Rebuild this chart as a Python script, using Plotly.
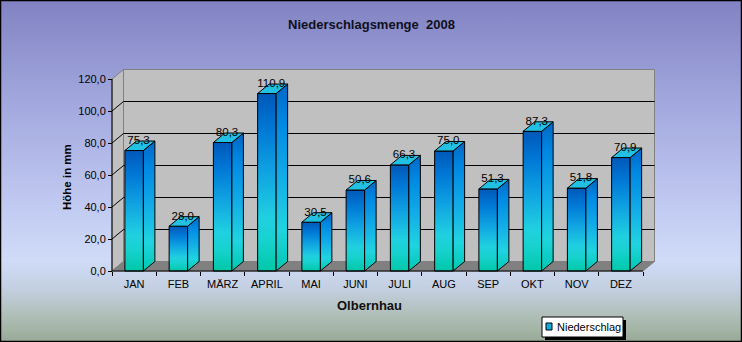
import plotly.graph_objects as go

# Monthly precipitation, Olbernhau 2008 (mm)
months = ["JAN", "FEB", "MÄRZ", "APRIL", "MAI", "JUNI", "JULI", "AUG", "SEP", "OKT", "NOV", "DEZ"]
precip = [75.3, 28.0, 80.3, 110.9, 30.5, 50.6, 66.3, 75.0, 51.3, 87.3, 51.8, 70.9]
y_ticks = [0, 20, 40, 60, 80, 100, 120]
y_tick_labels = ["0,0", "20,0", "40,0", "60,0", "80,0", "100,0", "120,0"]
series_name = "Niederschlag"

W, H = 742, 342

# Frame geometry in pixels: front plane of the pseudo-3D box
FX0 = 112.0        # left edge of front plane
CAT_W = 44.25      # width of one category
FY0 = 271.0        # pixel row of value 0
PX_PER_MM = 1.6    # pixels per mm
DEPTH_PX = (11.5, 9.5)   # depth offset (right, up)

# Plot domain in pixels (larger than the box so depth faces are not clipped)
DOM_L, DOM_R, DOM_T, DOM_B = 95, 680, 55, 290

x_range = [(DOM_L - FX0) / CAT_W - 0.5, (DOM_R - FX0) / CAT_W - 0.5]
y_range = [(FY0 - DOM_B) / PX_PER_MM, (FY0 - DOM_T) / PX_PER_MM]
DX = DEPTH_PX[0] / CAT_W
DY = DEPTH_PX[1] / PX_PER_MM
BAR_W = 18.5 / CAT_W

XL, XR = -0.5, len(months) - 0.5
YMAX = y_ticks[-1]

FONT = "Liberation Sans, Arial, sans-serif"

fig = go.Figure()

# Page background gradient on a full-page helper subplot
fig.add_trace(go.Scatter(
    x=[0, 1, 1, 0, 0], y=[0, 0, 1, 1, 0], mode="lines", fill="toself",
    line=dict(width=0), hoverinfo="skip", showlegend=False,
    fillgradient=dict(type="vertical", colorscale=[
        [0.0, "#98a996"], [0.07, "#aebdb4"], [0.16, "#c4d0e2"], [0.24, "#d0dbf8"],
        [0.45, "#bcc4ee"], [0.7, "#a2a8de"], [1.0, "#8282c2"]]),
    xaxis="x", yaxis="y"))


def poly(xs, ys, fill=None, line_color="black", gradient=None, width=1):
    kw = dict(x=list(xs) + [xs[0]], y=list(ys) + [ys[0]], mode="lines",
              line=dict(color=line_color, width=width), hoverinfo="skip",
              showlegend=False, xaxis="x2", yaxis="y2", fill="toself")
    if gradient is not None:
        kw["fillgradient"] = dict(type="vertical", colorscale=gradient)
    else:
        kw["fillcolor"] = fill
    fig.add_trace(go.Scatter(**kw))


# Back wall, left wall, floor
poly([XL + DX, XR + DX, XR + DX, XL + DX], [DY, DY, YMAX + DY, YMAX + DY],
     fill="#c0c0c0", line_color="#808080")
poly([XL, XL, XL + DX, XL + DX], [0, YMAX, YMAX + DY, DY],
     fill="#c0c0c0", line_color="#808080")
poly([XL, XR, XR + DX, XL + DX], [0, 0, DY, DY], fill="#808080", line_color="#808080")

# Gridlines across left wall and back wall
for v in y_ticks[1:-1]:
    fig.add_trace(go.Scatter(
        x=[XL, XL + DX, XR + DX], y=[v, v + DY, v + DY], mode="lines",
        line=dict(color="black", width=1), hoverinfo="skip", showlegend=False,
        xaxis="x2", yaxis="y2"))

front_scale = [[0.0, "#00c8a8"], [0.18, "#18d2d0"], [0.3, "#20d0e0"],
               [0.55, "#10a4e2"], [0.8, "#0078d6"], [1.0, "#0058b8"]]
side_scale = [[0.0, "#00c8b0"], [0.22, "#20d4e0"], [0.5, "#12ace8"],
              [0.8, "#0088e2"], [1.0, "#0066c6"]]
top_color = "#22c0e2"

# Columns: front face, side face, top face
for i, v in enumerate(precip):
    x0, x1 = i - BAR_W / 2, i + BAR_W / 2
    poly([x0, x1, x1, x0], [0, 0, v, v], gradient=front_scale)
    poly([x1, x1 + DX, x1 + DX, x1], [0, DY, v + DY, v], gradient=side_scale)
    poly([x0, x1, x1 + DX, x0 + DX], [v, v, v + DY, v + DY], fill=top_color)

# Value labels
fig.add_trace(go.Scatter(
    x=[i + 0.1 for i in range(len(precip))], y=[v + DY for v in precip],
    mode="text", text=[f"{v:.1f}".replace(".", ",") for v in precip],
    textposition="middle center", textfont=dict(family=FONT, size=11.5, color="black"),
    hoverinfo="skip", showlegend=False, xaxis="x2", yaxis="y2"))

# Front axis lines
fig.add_trace(go.Scatter(x=[XL, XL, XR], y=[YMAX, 0, 0], mode="lines",
                         line=dict(color="black", width=1), hoverinfo="skip",
                         showlegend=False, xaxis="x2", yaxis="y2"))

hidden = dict(visible=False, fixedrange=True, range=[0, 1], domain=[0, 1])

fig.update_layout(
    width=W, height=H, margin=dict(l=0, r=0, t=0, b=0),
    paper_bgcolor="#a8b0e0", plot_bgcolor="rgba(0,0,0,0)",
    separators=",.", showlegend=False,
    font=dict(family=FONT, size=11, color="black"),
    xaxis=hidden, yaxis=hidden,
    xaxis2=dict(domain=[DOM_L / W, DOM_R / W], range=x_range, anchor="free",
                position=1 - FY0 / H, showgrid=False, zeroline=False, showline=False,
                tickmode="array", tickvals=list(range(len(months))), ticktext=months,
                ticks="", ticklabelstandoff=5,
                tickfont=dict(family=FONT, size=11, color="black"),
                minor=dict(tickmode="array",
                           tickvals=[k - 0.5 for k in range(len(months) + 1)],
                           ticks="outside", ticklen=4, tickcolor="black", showgrid=False),
                fixedrange=True),
    yaxis2=dict(domain=[1 - DOM_B / H, 1 - DOM_T / H], range=y_range, anchor="free",
                position=FX0 / W, showgrid=False, zeroline=False, showline=False,
                tickmode="array", tickvals=y_ticks, ticktext=y_tick_labels,
                ticks="outside", ticklen=4, tickcolor="black",
                tickfont=dict(family=FONT, size=11, color="black"), fixedrange=True),
)


def label(text, px, py, size, angle=0, xanchor="center", color="black"):
    fig.add_annotation(text=text, x=px / W, y=1 - py / H, xref="paper", yref="paper",
                       xanchor=xanchor, yanchor="middle", textangle=angle,
                       showarrow=False, font=dict(family=FONT, size=size, color=color))


# Titles
label("<b>Niederschlagsmenge  2008</b>", 371, 24, 13, color="#101020")
label("<b>Olbernhau</b>", 369, 305, 13, color="#101010")
label("<b>Höhe in mm</b>", 67, 177, 11.5, angle=-90)


# Legend box with shadow
def prect(x0, y0, x1, y1, fill, line="black", lw=1):
    fig.add_shape(type="rect", xref="paper", yref="paper",
                  x0=x0 / W, x1=x1 / W, y0=1 - y1 / H, y1=1 - y0 / H,
                  fillcolor=fill, line=dict(color=line, width=lw), layer="above")


prect(545, 320, 626, 340, "black", lw=0)
prect(542, 317, 623, 337, "white")
prect(546, 323, 552, 330, "#12a8dc")
label(series_name, 555, 327, 11, xanchor="left")

# Outer border
prect(0.5, 0.5, W - 0.5, H - 0.5, "rgba(0,0,0,0)", lw=1.5)

fig.write_html("out.html")
